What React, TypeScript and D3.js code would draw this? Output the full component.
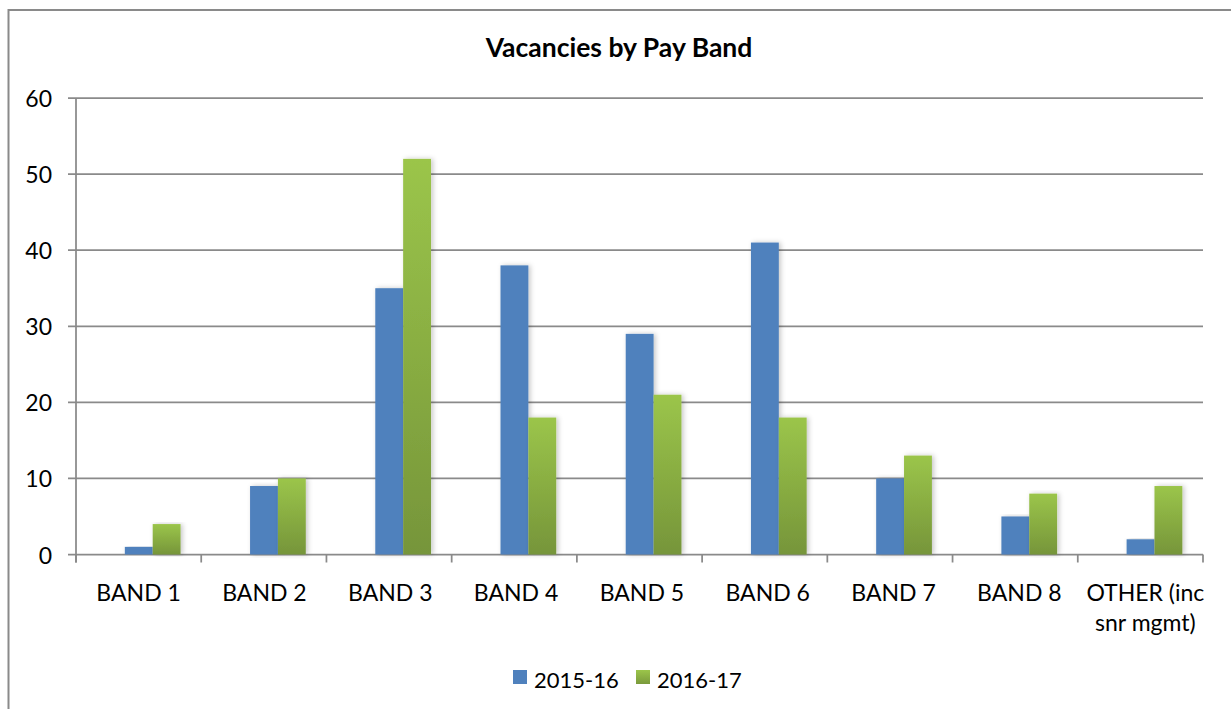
import * as d3 from "d3";

const categories = ["BAND 1", "BAND 2", "BAND 3", "BAND 4", "BAND 5", "BAND 6", "BAND 7", "BAND 8", "OTHER (inc\nsnr mgmt)"];
const seriesNames = ["2015-16", "2016-17"];
const values2015 = [1, 9, 35, 38, 29, 41, 10, 5, 2];
const values2016 = [4, 10, 52, 18, 21, 18, 13, 8, 9];
const yTicks = [0, 10, 20, 30, 40, 50, 60];

const W = 1231;
const H = 709;
const PLOT = { left: 76, right: 1203, top: 98, bottom: 554.5 };
const FONT = "Lato, 'Open Sans', sans-serif";
const GRID = "#8a8a8a";

const App = () => {
  const xScale = d3.scaleBand().domain(categories).range([PLOT.left, PLOT.right]).padding(0);
  const bw = xScale.bandwidth();
  // Excel draws the pair of bars a little right of the category centre
  const inner = d3.scaleBand().domain(seriesNames).range([bw * 0.39, bw * 0.835]).padding(0);
  const yScale = d3.scaleLinear().domain([0, 60]).range([PLOT.bottom, PLOT.top]);

  const data = [values2015, values2016];

  const bars = seriesNames.map((s, si) => (
    <g key={s}>
      {categories.map((c, ci) => {
        const v = data[si][ci];
        const x = (xScale(c) ?? 0) + (inner(s) ?? 0);
        return (
          <rect
            key={c}
            x={x}
            y={yScale(v)}
            width={inner.bandwidth()}
            height={yScale(0) - yScale(v)}
            fill={si === 0 ? "#4f81bd" : "url(#greenGrad)"}
            filter="url(#shadow)"
          />
        );
      })}
    </g>
  ));

  const grid = yTicks.map((t) => (
    <g key={t}>
      <line x1={PLOT.left - 8} x2={PLOT.right} y1={yScale(t)} y2={yScale(t)} stroke={GRID} strokeWidth={1.75} />
      <text x={52} y={yScale(t)} textAnchor="end" dominantBaseline="central" fontSize={23} fontFamily={FONT} fill="#000">
        {t}
      </text>
    </g>
  ));

  const xTicks = [...categories.map((c) => xScale(c) ?? 0), PLOT.right].map((x, i) => (
    <line key={i} x1={x} x2={x} y1={PLOT.bottom} y2={PLOT.bottom + 8} stroke={GRID} strokeWidth={1.75} />
  ));

  const xLabels = categories.map((c, ci) => {
    const lines = c.split("\n");
    const cx = (xScale(c) ?? 0) + bw / 2 + (lines.length > 1 ? 5 : ci * 0.6);
    return (
      <text key={c} x={cx} textAnchor="middle" fontSize={23} fontFamily={FONT} fill="#000">
        {lines.map((l, i) => (
          <tspan key={i} x={cx} y={601 + i * 30}>
            {l}
          </tspan>
        ))}
      </text>
    );
  });

  const legendItems = [
    { name: seriesNames[0], x: 513, fill: "#4f81bd" },
    { name: seriesNames[1], x: 636, fill: "url(#greenGradL)" },
  ];

  return (
    <svg width={W} height={H} style={{ position: "absolute", left: 0, top: 0, background: "#fff" }}>
      <defs>
        <linearGradient id="greenGrad" x1="0" y1="0" x2="0" y2="1">
          <stop offset="0%" stopColor="#9bc54a" />
          <stop offset="100%" stopColor="#76953a" />
        </linearGradient>
        <linearGradient id="greenGradL" x1="0" y1="0" x2="0" y2="1">
          <stop offset="0%" stopColor="#9bc54a" />
          <stop offset="100%" stopColor="#7a9a3c" />
        </linearGradient>
        <filter id="shadow" x="-20%" y="-5%" width="150%" height="110%">
          <feDropShadow dx={2} dy={0} stdDeviation={2.5} floodColor="#000" floodOpacity={0.22} />
        </filter>
      </defs>
      <rect x={8.5} y={10} width={1400} height={900} fill="#fff" stroke={GRID} strokeWidth={2} />
      <text x={619} y={57} textAnchor="middle" fontSize={26.5} fontWeight="bold" fontFamily={FONT} fill="#000">
        Vacancies by Pay Band
      </text>
      <g>{grid}</g>
      <line x1={PLOT.left} x2={PLOT.left} y1={PLOT.top} y2={PLOT.bottom + 8} stroke={GRID} strokeWidth={1.75} />
      <g>{xTicks}</g>
      <g>{bars}</g>
      <g>{xLabels}</g>
      <g>
        {legendItems.map((d) => (
          <g key={d.name}>
            <rect x={d.x} y={670} width={14} height={14} fill={d.fill} />
            <text x={d.x + 21} y={679} dominantBaseline="central" fontSize={22} fontFamily={FONT} fill="#000">
              {d.name}
            </text>
          </g>
        ))}
      </g>
    </svg>
  );
};

export default App;
